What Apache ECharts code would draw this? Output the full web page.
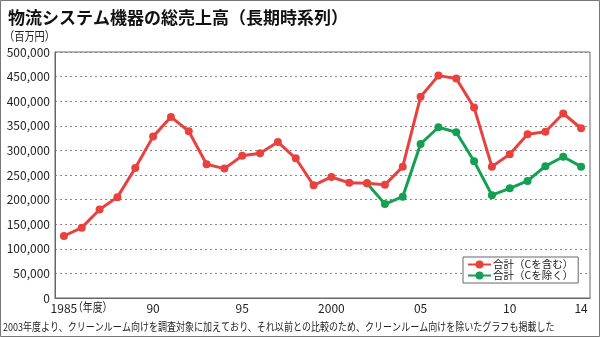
<!DOCTYPE html>
<html><head><meta charset="utf-8">
<script src="https://cdn.jsdelivr.net/npm/echarts@6/dist/echarts.min.js"></script>
<style>html,body{margin:0;padding:0;background:#fff}#c{width:600px;height:337px}</style>
</head><body><div id="c"></div>
<script>
const categories = ['1985','86','87','88','89','90','91','92','93','94','95','96','97','98','99','2000','01','02','03','04','05','06','07','08','09','10','11','12','13','14'];
const shownLabelIndexes = [0,5,10,15,20,25,29];
const seriesNames = ['合計（Cを含む）','合計（Cを除く）'];
const totalWithC = [126000,143000,180000,205000,264000,328000,368000,339000,272000,263000,289000,294000,317000,284000,229000,246000,234000,233000,230000,267000,409000,452000,446000,387000,267000,292000,333000,338000,375000,345000];
const totalWithoutC = [null,null,null,null,null,null,null,null,null,null,null,null,null,null,null,null,null,233000,191000,206000,313000,347000,337000,278000,209000,223000,238000,268000,287000,267000];
const yTicks = {min:0, max:500000, interval:50000};
const titleText = '物流システム機器の総売上高（長期時系列）';
const unitText = '（百万円）';
const xUnitText = '（年度）';
const noteText = '2003年度より、クリーンルーム向けを調査対象に加えており、それ以前との比較のため、クリーンルーム向けを除いたグラフも掲載した';

const FONT = '"Noto Sans CJK JP", "Noto Sans", sans-serif';
const RED = '#e8423f', GREEN = '#14a052';
const chart = echarts.init(document.getElementById('c'), null, {renderer:'canvas'});
chart.setOption({
  animation:false,
  backgroundColor:'#fff',
  textStyle:{fontFamily:FONT},
  title:[
    {text:titleText,left:3,top:4,textStyle:{fontSize:17,fontWeight:'bold',color:'#111',fontFamily:FONT}}
  ],
  grid:{left:55,right:10,top:52,bottom:39,show:true,borderColor:'#666',borderWidth:1,backgroundColor:'transparent'},
  legend:{
    orient:'vertical',left:463,top:257,itemGap:0,itemWidth:23,itemHeight:10,
    padding:[2,5,2,4],backgroundColor:'#fff',borderColor:'#666',borderWidth:1,
    textStyle:{fontSize:10.5,color:'#222',fontFamily:FONT,lineHeight:11,padding:[0,0,0,-3]},
    data:seriesNames
  },
  xAxis:{
    type:'category',data:categories,boundaryGap:true,
    axisLine:{lineStyle:{color:'#666',width:1}},
    axisTick:{inside:true,length:6,alignWithLabel:true,interval:0,lineStyle:{color:'#666'}},
    axisLabel:{margin:4,fontSize:12,color:'#222',fontFamily:FONT,
      interval:(i)=>shownLabelIndexes.indexOf(i)>=0},
    splitLine:{show:false}
  },
  yAxis:{
    type:'value',min:yTicks.min,max:yTicks.max,interval:yTicks.interval,
    axisLine:{show:true,lineStyle:{color:'#666'}},
    axisTick:{show:false},
    axisLabel:{margin:5,fontSize:12,color:'#222',fontFamily:FONT,
      formatter:(v)=>v.toLocaleString('en-US')},
    splitLine:{show:true,lineStyle:{color:'#888',type:[2,3],width:1}}
  },
  series:[
    {name:seriesNames[0],type:'line',data:totalWithC,z:4,color:RED,
      lineStyle:{width:3,color:RED},symbol:'circle',symbolSize:8,itemStyle:{color:RED}},
    {name:seriesNames[1],type:'line',data:totalWithoutC,z:3,color:GREEN,
      lineStyle:{width:3,color:GREEN},symbol:'circle',symbolSize:8,itemStyle:{color:GREEN}}
  ],
  graphic:[
    {type:'rect',shape:{x:0.5,y:0.5,width:599,height:336},style:{fill:'none',stroke:'#777',lineWidth:1},silent:true},
    {type:'text',x:4,y:30,scaleX:0.85,style:{text:unitText,fontSize:12,fill:'#222',fontFamily:FONT}},
    {type:'text',x:73,y:301,scaleX:0.82,style:{text:xUnitText,fontSize:12,fill:'#222',fontFamily:FONT}},
    {type:'text',x:3,y:321,scaleX:0.82,style:{text:noteText,fontSize:11,fill:'#222',fontFamily:FONT}}
  ]
});
</script></body></html>
